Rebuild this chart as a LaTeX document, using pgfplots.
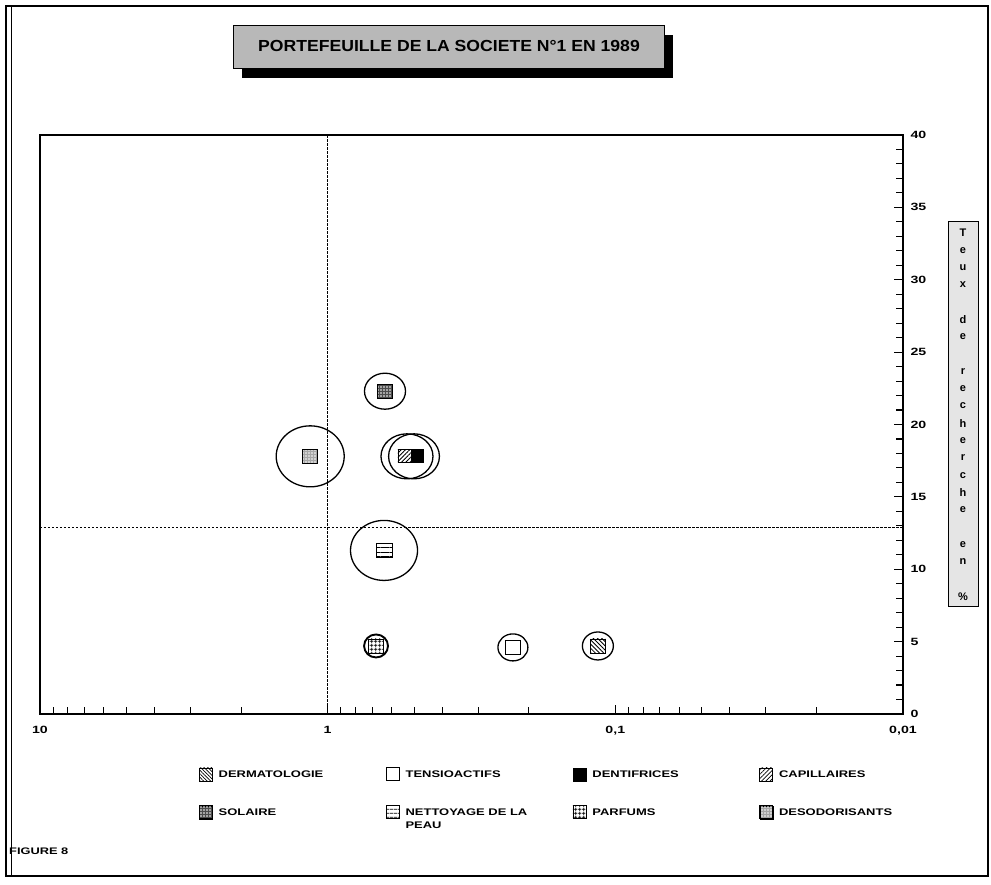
\documentclass[border=0pt]{standalone}
\usepackage{fontspec}
\setmainfont{Liberation Sans}
\newfontfamily\widef[FakeStretch=1.35]{Liberation Sans}
\newfontfamily\titlef[FakeStretch=1.1]{Liberation Sans}
\usepackage{pgfplots}
\pgfplotsset{compat=1.18}
\usetikzlibrary{patterns,patterns.meta}
\begin{document}
\begin{tikzpicture}
\path[use as bounding box, fill=white] (0pt,0pt) rectangle (991pt,885pt);
\draw[line width=1.4pt] (6pt,9pt) rectangle (988pt,879pt);
\draw[line width=1pt] (11pt,9pt) -- (11pt,879pt);
% title box with shadow
\fill[black] (242pt,807pt) rectangle (673pt,850pt);
\draw[fill=black!28, line width=0.8pt] (233pt,817pt) rectangle (664pt,860pt);
\node[font=\titlef\bfseries\fontsize{16}{18}\selectfont] at (449pt,838.5pt) {PORTEFEUILLE DE LA SOCIETE N°1 EN 1989};
% right vertical label
\draw[fill=black!10, line width=0.8pt] (948pt,279pt) rectangle (978pt,664pt);
\foreach \l [count=\i from 0] in {T,e,u,x,{},d,e,{},r,e,c,h,e,r,c,h,e,{},e,n,{},{\%}}
  \node[font=\bfseries\fontsize{11}{13}\selectfont, inner sep=0pt] at (963pt,{652pt-17.3pt*\i}) {\l};
% figure label
\node[font=\widef\bfseries\fontsize{9.5}{11}\selectfont, anchor=west, inner sep=0pt] at (9pt,34pt) {FIGURE 8};
\begin{axis}[
  at={(40pt,171pt)}, anchor=south west, scale only axis,
  width=863pt, height=579pt,
  xmode=log, x dir=reverse, xmin=0.01, xmax=10, ymin=0, ymax=40,
  clip=false,
  axis line style={line width=1.8pt},
  xtick={10,1,0.1,0.01}, xticklabels={10,1,{0,1},{0,01}},
  minor xtick={2,3,4,5,6,7,8,9,0.2,0.3,0.4,0.5,0.6,0.7,0.8,0.9,0.02,0.03,0.04,0.05,0.06,0.07,0.08,0.09},
  ytick={0,5,...,40}, minor y tick num=4,
  xtick pos=bottom, ytick pos=right, yticklabel pos=right,
  tick align=inside,
  major tick length=9pt, minor tick length=7pt,
  every tick/.style={line width=1.1pt, black},
  tick label style={font=\widef\bfseries\fontsize{10.5}{12}\selectfont},
  /pgf/number format/assume math mode=true,
  xticklabel style={yshift=-9pt},
  yticklabel style={xshift=4pt},
  legend columns=4,
  legend style={at={(0.184,-0.092)}, anchor=north west, draw=none, fill=none,
    inner sep=0pt, row sep=24pt, font=\widef\bfseries\fontsize{9.6}{11}\selectfont,
    /tikz/every odd column/.append style={column sep=4pt}},
  legend cell align=left,
]
% quadrant lines
\addplot[forget plot, line width=1pt, dash pattern=on 2.5pt off 1.5pt] coordinates {(1,0) (1,40)};
\addplot[forget plot, line width=1pt, dash pattern=on 2.5pt off 1.5pt] coordinates {(10,12.85) (0.01,12.85)};
% bubbles
\addplot[forget plot, only marks, mark=o, mark size=14, mark options={xscale=1.107, line width=1.3pt},
  nodes near coords={}, nodes near coords align={center}, nodes near coords style={draw, line width=0.7pt, minimum width=15pt, minimum height=14pt, inner sep=0pt,
  pattern={Lines[angle=-45, distance=3pt, line width=0.8pt]}}]
  coordinates {(0.115,4.7)};
\addplot[forget plot, only marks, mark=o, mark size=13.5, mark options={xscale=1.11, line width=1.3pt},
  nodes near coords={}, nodes near coords align={center}, nodes near coords style={draw, line width=0.8pt, minimum width=15pt, minimum height=14pt, inner sep=0pt, fill=white}]
  coordinates {(0.227,4.6)};
\addplot[forget plot, only marks, mark=o, mark size=22.5, mark options={xscale=1.156, line width=1.3pt},
  nodes near coords={}, nodes near coords align={center}, nodes near coords style={draw, line width=0.7pt, minimum width=13pt, minimum height=13pt, inner sep=0pt, xshift=-2.5pt,
  pattern={Lines[angle=45, distance=3pt, line width=0.8pt]}}]
  coordinates {(0.530,17.8)};
\addplot[forget plot, only marks, mark=o, mark size=22.5, mark options={xscale=1.13, line width=1.3pt},
  nodes near coords={}, nodes near coords align={center}, nodes near coords style={draw, line width=0.7pt, minimum width=12pt, minimum height=13pt, inner sep=0pt, xshift=3.5pt, fill=black}]
  coordinates {(0.501,17.8)};
\addplot[forget plot, only marks, mark=o, mark size=18, mark options={xscale=1.14, line width=1.3pt},
  nodes near coords={}, nodes near coords align={center}, nodes near coords style={draw, line width=0.7pt, minimum width=15pt, minimum height=14pt, inner sep=0pt,
  preaction={fill=black!70}, pattern={Dots[distance=3pt, radius=0.9pt]}, pattern color=white}]
  coordinates {(0.632,22.3)};
\addplot[forget plot, only marks, mark=o, mark size=30, mark options={xscale=1.117, line width=1.3pt},
  nodes near coords={}, nodes near coords align={center}, nodes near coords style={draw, line width=0.8pt, minimum width=16pt, minimum height=14pt, inner sep=0pt,
  preaction={fill=white}, pattern={Lines[angle=0, distance=4.5pt, line width=0.9pt]}}]
  coordinates {(0.637,11.3)};
\addplot[forget plot, only marks, mark=o, mark size=11.5, mark options={xscale=1.04, line width=1.9pt},
  nodes near coords={}, nodes near coords align={center}, nodes near coords style={draw, line width=0.8pt, minimum width=15pt, minimum height=14pt, inner sep=0pt,
  pattern={Hatch[angle=0, distance=4pt, line width=0.8pt]}}]
  coordinates {(0.679,4.7)};
\addplot[forget plot, only marks, mark=o, mark size=30.5, mark options={xscale=1.115, line width=1.3pt},
  nodes near coords={}, nodes near coords align={center}, nodes near coords style={draw, line width=0.7pt, minimum width=15pt, minimum height=14pt, inner sep=0pt,
  preaction={fill=black!35}, pattern={Dots[distance=3pt, radius=0.8pt]}, pattern color=white}]
  coordinates {(1.15,17.8)};
% legend
\addlegendimage{legend image code/.code={\draw[line width=0.7pt, pattern={Lines[angle=-45, distance=2.5pt, line width=0.7pt]}] (0pt,-6pt) rectangle (13pt,7pt);}}
\addlegendentry{\makebox[165pt][l]{DERMATOLOGIE}}
\addlegendimage{legend image code/.code={\draw[line width=0.9pt, fill=white] (0pt,-6pt) rectangle (13pt,7pt);}}
\addlegendentry{\makebox[165pt][l]{TENSIOACTIFS}}
\addlegendimage{legend image code/.code={\draw[line width=0.7pt, fill=black] (0pt,-6pt) rectangle (13pt,7pt);}}
\addlegendentry{\makebox[165pt][l]{DENTIFRICES}}
\addlegendimage{legend image code/.code={\draw[line width=0.7pt, pattern={Lines[angle=45, distance=3pt, line width=0.7pt]}] (0pt,-6pt) rectangle (13pt,7pt);}}
\addlegendentry{\makebox[165pt][l]{CAPILLAIRES}}
\addlegendimage{legend image code/.code={\draw[line width=0.7pt, preaction={fill=black!70}, pattern={Dots[distance=3pt, radius=0.9pt]}, pattern color=white] (0pt,-6pt) rectangle (13pt,7pt);}}
\addlegendentry{\makebox[165pt][l]{SOLAIRE}}
\addlegendimage{legend image code/.code={\draw[line width=0.8pt, pattern={Lines[angle=0, distance=4pt, line width=0.9pt]}] (0pt,-6pt) rectangle (13pt,7pt);}}
\addlegendentry{\parbox[t]{165pt}{NETTOYAGE DE LA\\[2pt]PEAU}}
\addlegendimage{legend image code/.code={\draw[line width=0.8pt, pattern={Hatch[angle=0, distance=4pt, line width=0.8pt]}] (0pt,-6pt) rectangle (13pt,7pt);}}
\addlegendentry{\makebox[165pt][l]{PARFUMS}}
\addlegendimage{legend image code/.code={\draw[line width=0.7pt, preaction={fill=black!35}, pattern={Dots[distance=3pt, radius=0.8pt]}, pattern color=white] (0pt,-6pt) rectangle (13pt,7pt);}}
\addlegendentry{\makebox[165pt][l]{DESODORISANTS}}
\end{axis}
\end{tikzpicture}
\end{document}
